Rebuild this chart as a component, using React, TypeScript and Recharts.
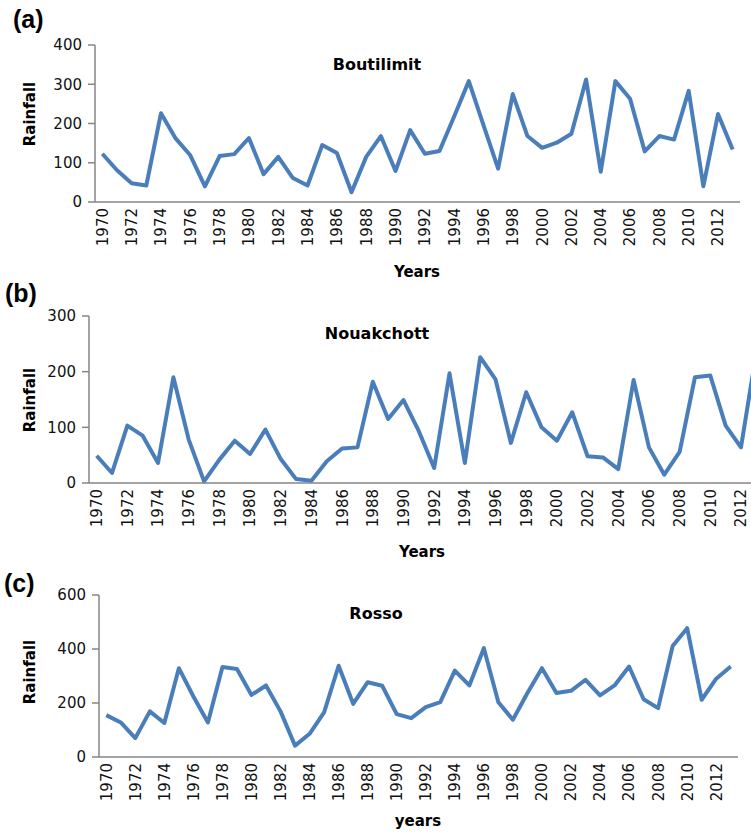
import { Line, LineChart, XAxis, YAxis } from 'recharts'

const years = [
  1970, 1971, 1972, 1973, 1974, 1975, 1976, 1977, 1978, 1979,
  1980, 1981, 1982, 1983, 1984, 1985, 1986, 1987, 1988, 1989,
  1990, 1991, 1992, 1993, 1994, 1995, 1996, 1997, 1998, 1999,
  2000, 2001, 2002, 2003, 2004, 2005, 2006, 2007, 2008, 2009,
  2010, 2011, 2012, 2013,
]

const boutilimit = [
  123, 81, 48, 42, 226, 162, 119, 40, 117, 122,
  163, 71, 115, 61, 42, 145, 125, 25, 115, 168,
  79, 183, 123, 130, 218, 308, 196, 85, 275, 168,
  138, 151, 174, 312, 77, 308, 263, 129, 168, 159,
  283, 40, 224, 134,
]

const nouakchott = [
  49, 18, 103, 85, 36, 190, 78, 3, 42, 76,
  52, 96, 43, 7, 4, 39, 62, 64, 182, 115,
  149, 93, 27, 197, 36, 226, 186, 72, 163, 100,
  76, 127, 48, 46, 25, 185, 64, 15, 56, 190,
  193, 103, 64, 235,
]

const rosso = [
  155, 128, 70, 169, 126, 329, 224, 128, 333, 326,
  230, 265, 169, 42, 86, 165, 338, 197, 277, 264,
  159, 144, 185, 203, 320, 265, 403, 203, 138, 237,
  329, 237, 245, 286, 228, 265, 335, 214, 181, 411,
  477, 212, 290, 335,
]

const ticksA = [0, 100, 200, 300, 400]
const ticksB = [0, 100, 200, 300]
const ticksC = [0, 200, 400, 600]

const build = (values: number[]) => years.map((year, i) => ({ year, value: values[i] }))

const FONT = 'DejaVu Sans'
const AXIS = '#868686'
const BLUE = '#4a7ebb'

function YearTick({ x, y, payload }: any) {
  return (
    <g transform={`translate(${x},${y})`}>
      <text
        transform="rotate(-90)"
        x={0}
        y={0}
        dy="0.36em"
        textAnchor="end"
        fontSize={15}
        fontFamily={FONT}
        fill="#111"
      >
        {payload.value}
      </text>
    </g>
  )
}

type PanelProps = {
  values: number[]
  ticks: number[]
  top: number
  width: number
  height: number
  margin: { top: number; right: number; bottom: number; left: number }
}

function Panel({ values, ticks, top, width, height, margin }: PanelProps) {
  const plotWidth = width - margin.left - margin.right - 60
  const half = plotWidth / (2 * years.length)
  return (
    <div style={{ position: 'absolute', left: 0, top }}>
      <LineChart width={width} height={height} data={build(values)} margin={margin}>
        <XAxis
          dataKey="year"
          height={50}
          interval={1}
          padding={{ left: half, right: half }}
          tickLine={false}
          tickSize={0}
          tickMargin={6}
          axisLine={{ stroke: AXIS, strokeWidth: 1.5 }}
          tick={<YearTick />}
        />
        <YAxis
          width={60}
          domain={[ticks[0], ticks[ticks.length - 1]]}
          ticks={ticks}
          interval={0}
          tickSize={7}
          tickMargin={6}
          axisLine={{ stroke: AXIS, strokeWidth: 1.5 }}
          tickLine={{ stroke: AXIS, strokeWidth: 1.5 }}
          tick={{ fontSize: 15, fontFamily: FONT, fill: '#111' }}
        />
        <Line
          type="linear"
          dataKey="value"
          stroke={BLUE}
          strokeWidth={4}
          strokeLinejoin="round"
          dot={false}
          activeDot={false}
          isAnimationActive={false}
        />
      </LineChart>
    </div>
  )
}

const bold = { fontFamily: FONT, fontWeight: 700, fill: '#000' } as const
const letter = { fontFamily: 'Liberation Sans', fontWeight: 700, fontSize: 25, fill: '#000' } as const

export default function App() {
  return (
    <div
      style={{
        position: 'absolute',
        left: 0,
        top: 0,
        width: 751,
        height: 832,
        overflow: 'hidden',
        background: '#fff',
      }}
    >
      <Panel values={boutilimit} ticks={ticksA} top={0} width={751} height={280}
        margin={{ top: 45, right: 11, bottom: 28, left: 35 }} />
      <Panel values={nouakchott} ticks={ticksB} top={280} width={780} height={280}
        margin={{ top: 36, right: 16, bottom: 27, left: 29 }} />
      <Panel values={rosso} ticks={ticksC} top={560} width={751} height={272}
        margin={{ top: 35, right: 13, bottom: 25, left: 39 }} />
      <svg
        width={751}
        height={832}
        style={{ position: 'absolute', left: 0, top: 0, pointerEvents: 'none' }}
      >
        <text x={13} y={28} {...letter}>(a)</text>
        <text x={5} y={302} {...letter}>(b)</text>
        <text x={4} y={592} {...letter}>(c)</text>

        <text x={377} y={70} textAnchor="middle" fontSize={16} {...bold}>Boutilimit</text>
        <text x={377} y={339} textAnchor="middle" fontSize={16} {...bold}>Nouakchott</text>
        <text x={376} y={619} textAnchor="middle" fontSize={16} {...bold}>Rosso</text>

        <text transform="translate(35,114) rotate(-90)" textAnchor="middle" fontSize={15} {...bold}>Rainfall</text>
        <text transform="translate(35,400) rotate(-90)" textAnchor="middle" fontSize={15} {...bold}>Rainfall</text>
        <text transform="translate(35,672) rotate(-90)" textAnchor="middle" fontSize={15} {...bold}>Rainfall</text>

        <text x={417} y={277} textAnchor="middle" fontSize={15} {...bold}>Years</text>
        <text x={422} y={557} textAnchor="middle" fontSize={15} {...bold}>Years</text>
        <text x={418} y={826} textAnchor="middle" fontSize={15} {...bold}>years</text>
      </svg>
    </div>
  )
}
